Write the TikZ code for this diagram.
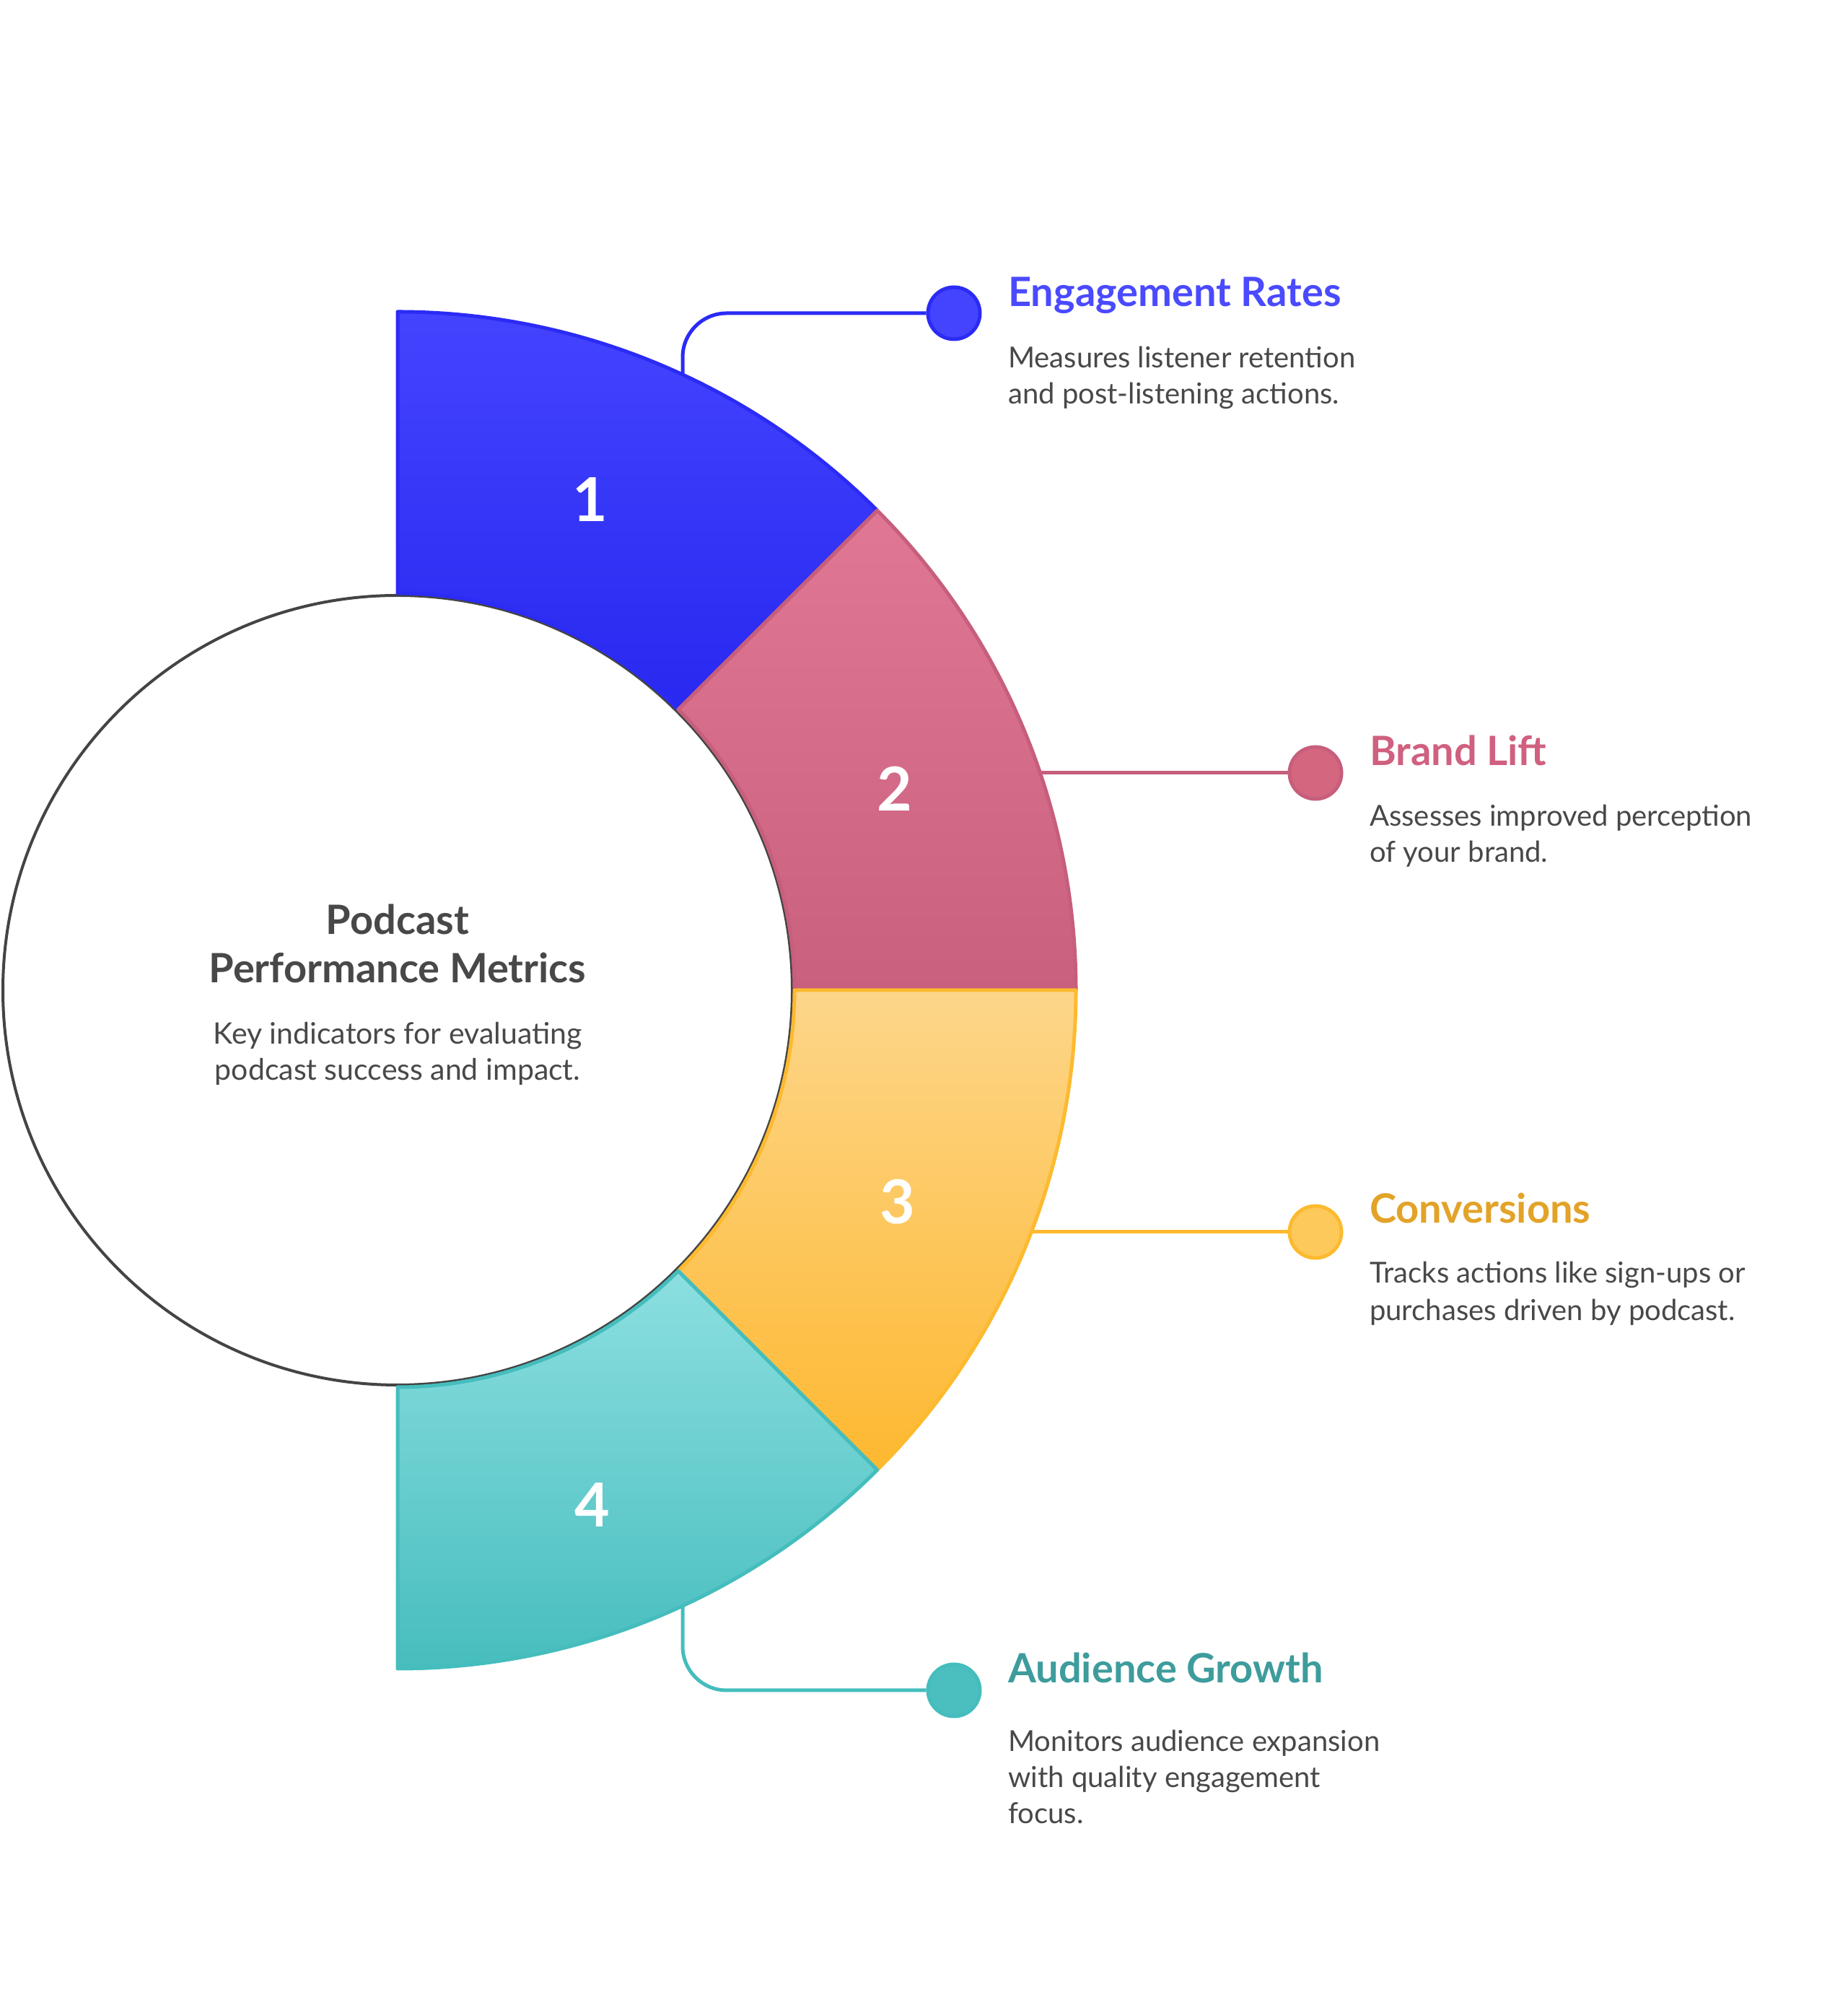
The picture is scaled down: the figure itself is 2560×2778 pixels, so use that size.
\documentclass[tikz,border=0pt]{standalone}
\usepackage{fontspec}
\setmainfont{Lato}
\definecolor{txtgray}{HTML}{484848}
\definecolor{ringgray}{HTML}{444444}
\definecolor{blueA}{HTML}{4444FF}
\definecolor{blueB}{HTML}{2828F0}
\definecolor{blueS}{HTML}{2B2BF5}
\definecolor{blueT}{HTML}{4A4AFF}
\definecolor{pinkA}{HTML}{E07794}
\definecolor{pinkB}{HTML}{C9607E}
\definecolor{pinkS}{HTML}{C65E7C}
\definecolor{pinkT}{HTML}{D0607F}
\definecolor{pinkD}{HTML}{D4677F}
\definecolor{yelA}{HTML}{FDD68A}
\definecolor{yelB}{HTML}{FDB830}
\definecolor{yelS}{HTML}{FDBA2F}
\definecolor{yelT}{HTML}{E2A328}
\definecolor{yelD}{HTML}{FDC95A}
\definecolor{tealA}{HTML}{8CDFE0}
\definecolor{tealB}{HTML}{47BDBE}
\definecolor{tealS}{HTML}{45BDBD}
\definecolor{tealT}{HTML}{3E9C9C}
\definecolor{tealD}{HTML}{4BBFC0}
\tikzset{
  seg/.style={line width=5pt, line join=round},
  conn/.style={line width=5pt, rounded corners=61pt},
  dot/.style={circle, inner sep=0, minimum size=72pt, line width=5pt},
  ttl/.style={inner sep=0, anchor=base west, font=\bfseries\fontsize{56}{62}\selectfont},
  dsc/.style={inner sep=0, anchor=base west, text=txtgray, font=\fontsize{40}{50}\selectfont},
  ctr/.style={inner sep=0, anchor=base, text=txtgray},
  num/.style={inner sep=0, text=white, font=\bfseries\fontsize{84}{90}\selectfont},
}
\begin{document}
\begin{tikzpicture}[x=1pt,y=1pt]
\useasboundingbox (0,0) rectangle (2560,2778);
\coordinate (C) at (551,1406);
% hub circle
\node[circle, draw=ringgray, line width=4pt, fill=white, minimum size=1094pt, inner sep=0] (hub) at (C) {};
% segments
\path[seg, draw=blueS, top color=blueA, bottom color=blueB]
  ([shift={(90:940)}]C) arc[start angle=90, end angle=45, radius=940]
  -- ([shift={(45:550)}]C) arc[start angle=45, end angle=90, radius=550] -- cycle;
\path[seg, draw=pinkS, top color=pinkA, bottom color=pinkB]
  ([shift={(45:940)}]C) arc[start angle=45, end angle=0, radius=940]
  -- ([shift={(0:550)}]C) arc[start angle=0, end angle=45, radius=550] -- cycle;
\path[seg, draw=yelS, top color=yelA, bottom color=yelB]
  ([shift={(0:940)}]C) arc[start angle=0, end angle=-45, radius=940]
  -- ([shift={(-45:550)}]C) arc[start angle=-45, end angle=0, radius=550] -- cycle;
\path[seg, draw=tealS, top color=tealA, bottom color=tealB]
  ([shift={(-45:940)}]C) arc[start angle=-45, end angle=-90, radius=940]
  -- ([shift={(-90:550)}]C) arc[start angle=-90, end angle=-45, radius=550] -- cycle;
% numbers
\node[num] (n1) at (818,2086) {1};
\node[num] (n2) at (1240,1685) {2};
\node[num] (n3) at (1244,1113) {3};
\node[num] (n4) at (821,693) {4};
% center text
\node[ctr, font=\bfseries\fontsize{56}{62}\selectfont] (c1) at (551,1483) {Podcast};
\node[ctr, font=\bfseries\fontsize{56}{62}\selectfont] (c2) at (551,1416) {Performance Metrics};
\node[ctr, font=\fontsize{41}{50}\selectfont] (c3) at (551,1331) {Key indicators for evaluating};
\node[ctr, font=\fontsize{41}{50}\selectfont] (c4) at (551,1281) {podcast success and impact.};
% connector anchors on the ring
\coordinate (a1) at (946,2259);
\coordinate (a2) at (1439,1707);
\coordinate (a3) at (1427,1071);
\coordinate (a4) at (946,553);
% dots
\node[dot, draw=blueS, fill=blueA] (d1) at (1322,2344) {};
\node[dot, draw=pinkS, fill=pinkD] (d2) at (1823,1707) {};
\node[dot, draw=yelS, fill=yelD] (d3) at (1823,1071) {};
\node[dot, draw=tealS, fill=tealD] (d4) at (1322,436) {};
% connectors
\draw[conn, blueS] (a1) |- (d1.west);
\draw[conn, pinkS] (a2) -- (d2.west);
\draw[conn, yelS] (a3) -- (d3.west);
\draw[conn, tealS] (a4) |- (d4.west);
% labels
\node[ttl, text=blueT] (t1) at (1397,2353) {Engagement Rates};
\node[dsc] (t1a) at (1397,2268) {Measures listener retention};
\node[dsc] (t1b) at (1397,2218) {and post-listening actions.};
\node[ttl, text=pinkT] (t2) at (1898,1717) {Brand Lift};
\node[dsc] (t2a) at (1898,1633) {Assesses improved perception};
\node[dsc] (t2b) at (1898,1583) {of your brand.};
\node[ttl, text=yelT] (t3) at (1898,1083) {Conversions};
\node[dsc] (t3a) at (1898,1000) {Tracks actions like sign-ups or};
\node[dsc] (t3b) at (1898,948) {purchases driven by podcast.};
\node[ttl, text=tealT] (t4) at (1397,446) {Audience Growth};
\node[dsc] (t4a) at (1397,351) {Monitors audience expansion};
\node[dsc] (t4b) at (1397,301) {with quality engagement};
\node[dsc] (t4c) at (1397,251) {focus.};
\end{tikzpicture}
\end{document}
